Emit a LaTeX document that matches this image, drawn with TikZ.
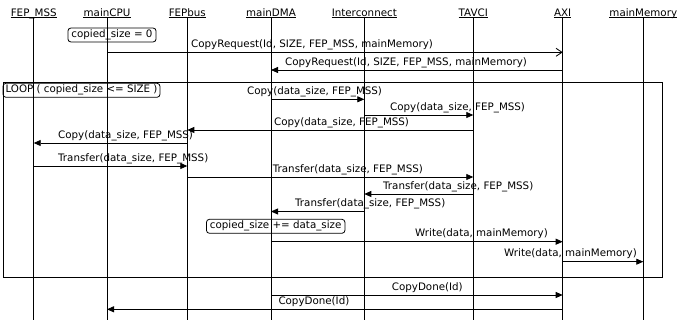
\documentclass[tikz,border=0pt]{standalone}
\usepackage{fontspec}
\setmainfont{DejaVu Sans}
\usetikzlibrary{arrows.meta}

\tikzset{
  actor/.style={anchor=base},
  lifeline/.style={black,line width=0.8pt},
  msg/.style={black,line width=0.8pt,-{Triangle[length=7pt,width=6pt]}},
  asyncmsg/.style={black,line width=0.8pt,-{Straight Barb[length=6pt,width=8pt]}},
  msglabel/.style={anchor=base west},
  note/.style={draw,rounded corners=3pt,line width=0.8pt,inner xsep=3.5pt,inner ysep=2pt,text height=7.6pt,text depth=2.4pt},
  frame/.style={black,line width=0.8pt}
}

\begin{document}
\begin{tikzpicture}[x=1pt,y=1pt,font=\fontsize{10.3}{12}\selectfont]
\tikzstyle{every node}+=[inner sep=0pt]
\useasboundingbox (0,0) rectangle (683,-320);
% actors
\node [actor] (fepmss) at (33.7,-16.3) {FEP\_MSS};
\node [actor] (cpu) at (107,-16.3) {mainCPU};
\node [actor] (fepbus) at (187.3,-16.3) {FEPbus};
\node [actor] (dma) at (271,-16.3) {mainDMA};
\node [actor] (ic) at (364.3,-16.3) {Interconnect};
\node [actor] (tavci) at (473.3,-16.3) {TAVCI};
\node [actor] (axi) at (562.7,-16.3) {AXI};
\node [actor] (mem) at (643.3,-16.3) {mainMemory};
\coordinate (bottom) at (0,-320);
% underlines and lifelines
\draw [lifeline] ([yshift=-1.4pt]fepmss.base west) -- ([yshift=-1.4pt]fepmss.base east);
\draw [lifeline] ([yshift=-1.4pt]cpu.base west) -- ([yshift=-1.4pt]cpu.base east);
\draw [lifeline] ([yshift=-1.4pt]fepbus.base west) -- ([yshift=-1.4pt]fepbus.base east);
\draw [lifeline] ([yshift=-1.4pt]dma.base west) -- ([yshift=-1.4pt]dma.base east);
\draw [lifeline] ([yshift=-1.4pt]ic.base west) -- ([yshift=-1.4pt]ic.base east);
\draw [lifeline] ([yshift=-1.4pt]tavci.base west) -- ([yshift=-1.4pt]tavci.base east);
\draw [lifeline] ([yshift=-1.4pt]axi.base west) -- ([yshift=-1.4pt]axi.base east);
\draw [lifeline] ([yshift=-1.4pt]mem.base west) -- ([yshift=-1.4pt]mem.base east);
\draw [lifeline] ([yshift=-1.4pt]fepmss.base) -- (fepmss |- bottom);
\draw [lifeline] ([yshift=-1.4pt]cpu.base) -- (cpu |- bottom);
\draw [lifeline] ([yshift=-1.4pt]fepbus.base) -- (fepbus |- bottom);
\draw [lifeline] ([yshift=-1.4pt]dma.base) -- (dma |- bottom);
\draw [lifeline] ([yshift=-1.4pt]ic.base) -- (ic |- bottom);
\draw [lifeline] ([yshift=-1.4pt]tavci.base) -- (tavci |- bottom);
\draw [lifeline] ([yshift=-1.4pt]axi.base) -- (axi |- bottom);
\draw [lifeline] ([yshift=-1.4pt]mem.base) -- (mem |- bottom);
% start
\node [note] (init) at (112,-35) {copied\_size = 0};
\draw [asyncmsg] (cpu |- 0,-52.3) -- (axi |- 0,-52.3);
\node [msglabel] (req1) at (191,-47.5) {CopyRequest(Id, SIZE, FEP\_MSS, mainMemory)};
\draw [msg] (axi |- 0,-70) -- (dma |- 0,-70);
\node [msglabel] (req2) at (285,-65.2) {CopyRequest(Id, SIZE, FEP\_MSS, mainMemory)};
% loop
\draw [frame] (3,-82) rectangle (662.5,-277.3);
\node [note, inner xsep=2.5pt] (loop) at (81.5,-90.3) {LOOP ( copied\_size <= SIZE )};
\draw [msg] (dma |- 0,-99.3) -- (ic |- 0,-99.3);
\node [msglabel] (cp1) at (247,-94.6) {Copy(data\_size, FEP\_MSS)};
\draw [msg] (ic |- 0,-115) -- (tavci |- 0,-115);
\node [msglabel] (cp2) at (390,-110.3) {Copy(data\_size, FEP\_MSS)};
\draw [msg] (tavci |- 0,-130) -- (fepbus |- 0,-130);
\node [msglabel] (cp3) at (274,-125.3) {Copy(data\_size, FEP\_MSS)};
\draw [msg] (fepbus |- 0,-143) -- (fepmss |- 0,-143);
\node [msglabel] (cp4) at (58,-138.3) {Copy(data\_size, FEP\_MSS)};
\draw [msg] (fepmss |- 0,-166) -- (fepbus |- 0,-166);
\node [msglabel] (tr1) at (58,-161.3) {Transfer(data\_size, FEP\_MSS)};
\draw [msg] (fepbus |- 0,-177) -- (tavci |- 0,-177);
\node [msglabel] (tr2) at (272.7,-172.3) {Transfer(data\_size, FEP\_MSS)};
\draw [msg] (tavci |- 0,-194) -- (ic |- 0,-194);
\node [msglabel] (tr3) at (383,-189.3) {Transfer(data\_size, FEP\_MSS)};
\draw [msg] (ic |- 0,-211.5) -- (dma |- 0,-211.5);
\node [msglabel] (tr4) at (295,-206.8) {Transfer(data\_size, FEP\_MSS)};
\node [note] (incr) at (275.7,-226.3) {copied\_size += data\_size};
\draw [msg] (dma |- 0,-241.7) -- (axi |- 0,-241.7);
\node [msglabel] (wr1) at (415,-237) {Write(data, mainMemory)};
\draw [msg] (axi |- 0,-261.7) -- (mem |- 0,-261.7);
\node [msglabel] (wr2) at (504,-257) {Write(data, mainMemory)};
% end
\draw [msg] (dma |- 0,-295) -- (axi |- 0,-295);
\node [msglabel] (done1) at (391.7,-290.3) {CopyDone(Id)};
\draw [msg] (axi |- 0,-309.3) -- (cpu |- 0,-309.3);
\node [msglabel] (done2) at (278.3,-304.6) {CopyDone(Id)};
\end{tikzpicture}
\end{document}
